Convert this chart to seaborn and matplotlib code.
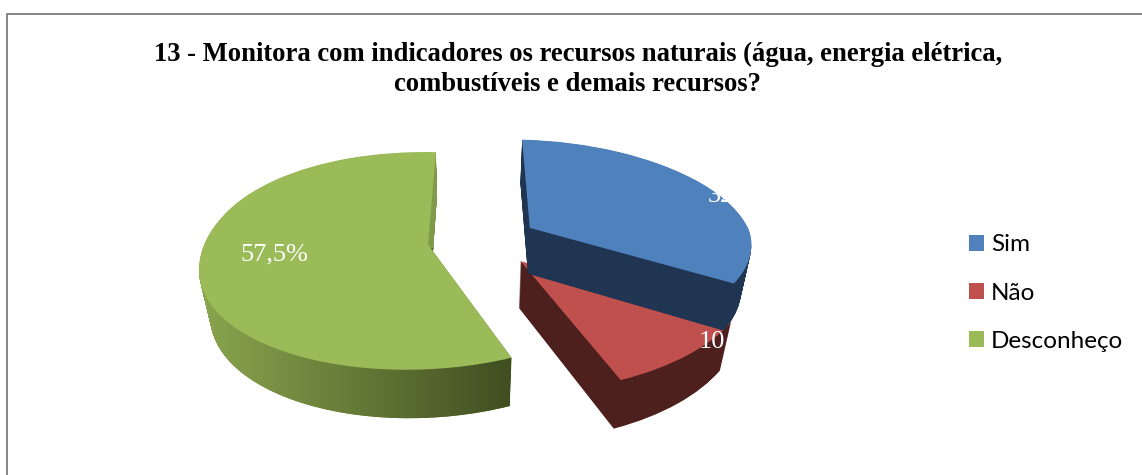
import numpy as np
import seaborn as sns
import matplotlib
matplotlib.use("Agg")
import matplotlib.pyplot as plt
from matplotlib.patches import Patch, PathPatch
from matplotlib.path import Path
from matplotlib.transforms import Transform
from matplotlib.colors import LinearSegmentedColormap

title = "13 - Monitora com indicadores os recursos naturais (água, energia elétrica,\ncombustíveis e demais recursos?"
categories = ["Sim", "Não", "Desconheço"]
values = [32.5, 10.0, 57.5]

top_colors = ["#4F81BD", "#C0504D", "#9BBB59"]
side_colors = ["#1F3552", "#4D1F1D", None]
explode = [0.25, 0.26, 0.245]
draw_order = [1, 2, 0]

# fake 3d tilt of the unit pie, result in pixels
CX, CY = 482, 240
RX, RY = 222, 105
K, M = 0.15, 0.04
SKEW = 15
DEPTH = 48
W, H = 1142, 475


class Tilt(Transform):
    input_dims = 2
    output_dims = 2

    def __init__(self, z=0.0):
        super().__init__()
        self.z = z

    def transform_non_affine(self, values):
        x, y = np.asarray(values).T
        w = 1 + K * y + M * self.z
        bend = SKEW * (np.sqrt(y * y + 0.06) - 0.245)
        return np.column_stack([CX + RX * x / w - bend, CY - RY * y / w + DEPTH * self.z / w])


def draw_pie(ax, z, zorders, colors):
    wedges, _ = ax.pie(values, explode=explode, colors=colors, startangle=86.5, counterclock=False,
                       wedgeprops={"linewidth": 0})
    for w, zo in zip(wedges, zorders):
        w.set_transform(Tilt(z) + ax.transData)
        w.set_zorder(zo)
    return wedges


sns.set_theme(style="white")
palette = sns.color_palette(top_colors)

fig = plt.figure(figsize=(W / 100, H / 100), dpi=100)
ax = fig.add_axes([0, 0, 1, 1])

base = {s: 2 + 2 * draw_order.index(s) for s in range(3)}

green_paths = []
for z in np.linspace(1, 0.01, 70):
    flat = [side_colors[i] or "none" for i in range(3)]
    wedges = draw_pie(ax, z, [base[i] + 1 - z for i in range(3)], flat)
    green_paths.append(Tilt(z).transform_path(wedges[2].get_path()))
    wedges[2].remove()

draw_pie(ax, 0, [base[i] + 1.5 for i in range(3)], palette)

# green side: flat inner cut, left to right shading on the round part
green_side = Path.make_compound_path(*green_paths)
ax.add_patch(PathPatch(green_side, facecolor="#7F9A48", linewidth=0, zorder=base[2] + 0.4))
shade = LinearSegmentedColormap.from_list("shade", ["#8AA64F", "#3F4D20"])
img = ax.imshow(np.linspace(0, 1, 256).reshape(1, -1), cmap=shade, extent=(199, 516, 430, 248),
                aspect="auto", zorder=base[2] + 0.5)
img.set_clip_path(green_side, transform=ax.transData)

ax.set_xlim(0, W)
ax.set_ylim(H, 0)
ax.set_aspect("auto")
ax.axis("off")

# chart border, only left and top fall inside the crop
ax.plot([6.5, 6.5, W], [H, 13.5, 13.5], color="#868686", lw=1.4, zorder=1)

serif = "Liberation Serif"
ax.text(578, 69, title, ha="center", va="center", family=serif, weight="bold", fontsize=19.2,
        color="black", linespacing=1.26, zorder=20)

label_pos = [(708, 195), (699, 341), (240, 254)]
for v, (x, y) in zip(values, label_pos):
    ax.text(x, y, f"{v:.1f}%".replace(".", ","), ha="left", va="center", family=serif, fontsize=19,
            color="white", zorder=20)

handles = [Patch(facecolor=c, linewidth=0) for c in palette]
ax.legend(handles, categories, loc="center left", bbox_to_anchor=(947 / W, 1 - 293 / H), frameon=False,
          prop={"family": "Lato", "size": 17.5}, labelspacing=1.12, handlelength=0.62, handleheight=0.62,
          handletextpad=0.3, labelcolor="black")

fig.savefig("out.png", dpi=100)
